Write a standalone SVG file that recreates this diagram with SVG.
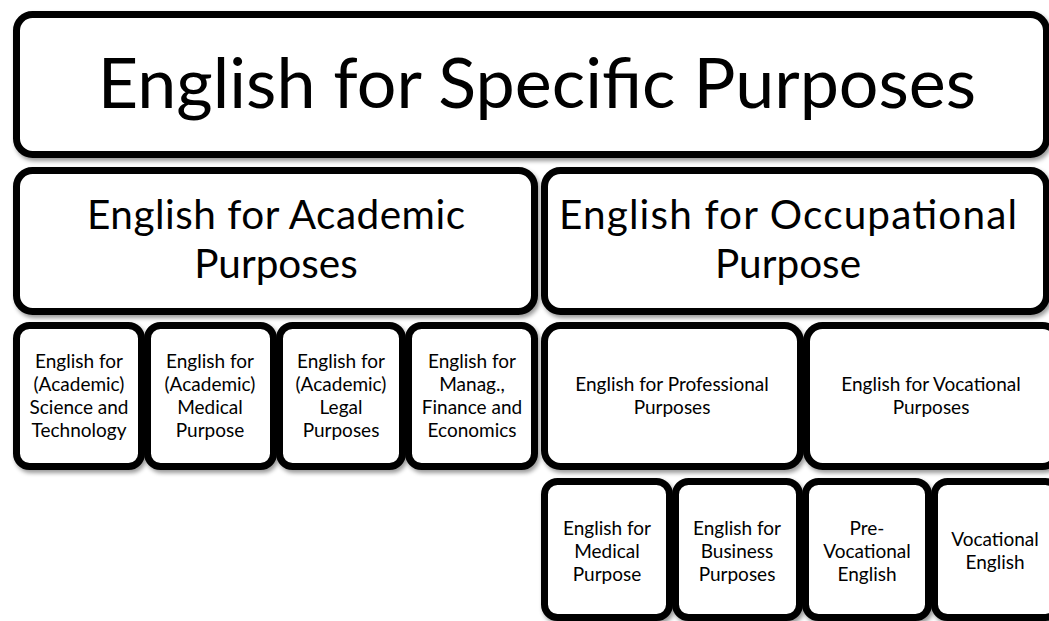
<svg xmlns="http://www.w3.org/2000/svg" width="1049" height="621" viewBox="0 0 1049 621">
  <defs>
    <filter id="shadow" x="-10%" y="-10%" width="120%" height="130%">
      <feDropShadow dx="2" dy="3" stdDeviation="2" flood-color="#000" flood-opacity="0.4"/>
    </filter>
    <style>
      .box { fill: #fff; stroke: #000; stroke-width: 7; filter: url(#shadow); }
      text { font-family: Lato, "Open Sans", "Liberation Sans", sans-serif; fill: #000; text-anchor: middle; }
      .t0 { font-size: 70px; }
      .t1 { font-size: 40.5px; }
      .t2 { font-size: 19px; }
    </style>
  </defs>
  <rect width="1049" height="621" fill="#fff"/>

  <!-- Level 0 -->
  <g id="esp">
    <rect class="box" x="16.5" y="14.5" width="1030" height="140" rx="16"/>
    <text class="t0" x="537" y="108">English for Specific Purposes</text>
  </g>

  <!-- Level 1 -->
  <g id="eap">
    <rect class="box" x="16.5" y="170.5" width="518" height="141" rx="16"/>
    <text class="t1" x="276" y="229" textLength="378" lengthAdjust="spacing">English for Academic</text>
    <text class="t1" x="276" y="278">Purposes</text>
  </g>
  <g id="eop">
    <rect class="box" x="544.5" y="170.5" width="502" height="141" rx="16"/>
    <text class="t1" x="788" y="229" textLength="458" lengthAdjust="spacing">English for Occupational</text>
    <text class="t1" x="788" y="278">Purpose</text>
  </g>

  <!-- Level 2: academic branches -->
  <g id="est">
    <rect class="box" x="16.5" y="325.5" width="125" height="141" rx="13"/>
    <text class="t2" x="79" y="368">English for</text>
    <text class="t2" x="79" y="391">(Academic)</text>
    <text class="t2" x="79" y="414">Science and</text>
    <text class="t2" x="79" y="437">Technology</text>
  </g>
  <g id="emp-academic">
    <rect class="box" x="147.5" y="325.5" width="126" height="141" rx="13"/>
    <text class="t2" x="210" y="368">English for</text>
    <text class="t2" x="210" y="391">(Academic)</text>
    <text class="t2" x="210" y="414">Medical</text>
    <text class="t2" x="210" y="437">Purpose</text>
  </g>
  <g id="elp">
    <rect class="box" x="279.5" y="325.5" width="123" height="141" rx="13"/>
    <text class="t2" x="341" y="368">English for</text>
    <text class="t2" x="341" y="391">(Academic)</text>
    <text class="t2" x="341" y="414">Legal</text>
    <text class="t2" x="341" y="437">Purposes</text>
  </g>
  <g id="emfe">
    <rect class="box" x="408.5" y="325.5" width="126" height="141" rx="13"/>
    <text class="t2" x="472" y="368">English for</text>
    <text class="t2" x="472" y="391">Manag.,</text>
    <text class="t2" x="472" y="414">Finance and</text>
    <text class="t2" x="472" y="437">Economics</text>
  </g>

  <!-- Level 2: occupational branches -->
  <g id="epp">
    <rect class="box" x="544.5" y="325.5" width="256" height="141" rx="16"/>
    <text class="t2" x="672" y="391">English for Professional</text>
    <text class="t2" x="672" y="414">Purposes</text>
  </g>
  <g id="evp">
    <rect class="box" x="806.5" y="325.5" width="252" height="141" rx="16"/>
    <text class="t2" x="931" y="391">English for Vocational</text>
    <text class="t2" x="931" y="414">Purposes</text>
  </g>

  <!-- Level 3 -->
  <g id="emp">
    <rect class="box" x="544.5" y="481.5" width="125" height="136" rx="13"/>
    <text class="t2" x="607" y="535">English for</text>
    <text class="t2" x="607" y="558">Medical</text>
    <text class="t2" x="607" y="581">Purpose</text>
  </g>
  <g id="ebp">
    <rect class="box" x="675.5" y="481.5" width="124" height="136" rx="13"/>
    <text class="t2" x="737" y="535">English for</text>
    <text class="t2" x="737" y="558">Business</text>
    <text class="t2" x="737" y="581">Purposes</text>
  </g>
  <g id="pve">
    <rect class="box" x="805.5" y="481.5" width="123" height="136" rx="13"/>
    <text class="t2" x="867" y="535">Pre-</text>
    <text class="t2" x="867" y="558">Vocational</text>
    <text class="t2" x="867" y="581">English</text>
  </g>
  <g id="ve">
    <rect class="box" x="934.5" y="481.5" width="124" height="136" rx="13"/>
    <text class="t2" x="995" y="546">Vocational</text>
    <text class="t2" x="995" y="569">English</text>
  </g>
</svg>
